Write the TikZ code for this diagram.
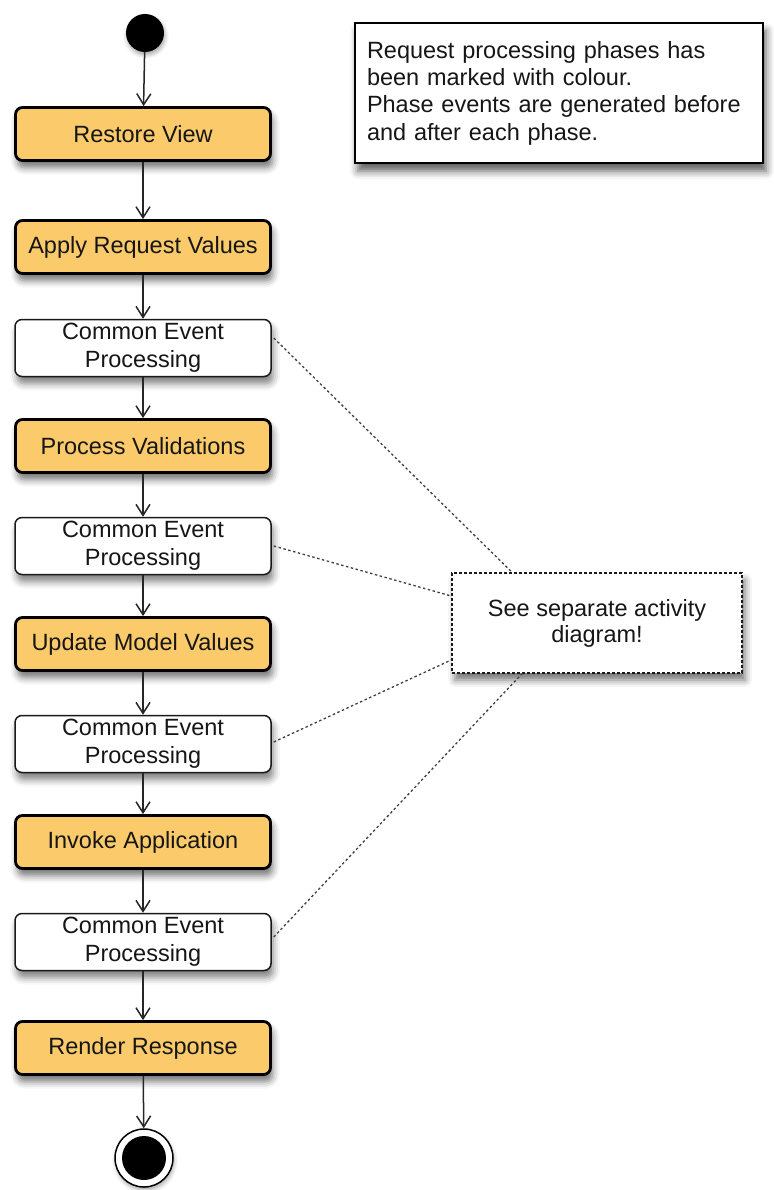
\documentclass[tikz,border=0pt]{standalone}
\usepackage{fontspec}
\setmainfont{Liberation Sans}
\usetikzlibrary{arrows.meta,shadows.blur}
\definecolor{phasefill}{HTML}{FBCB6B}
\definecolor{ink}{HTML}{161616}
\tikzset{
  base/.style={font=\fontsize{23.5}{28}\selectfont, text=ink, align=center, inner sep=0pt},
  phase/.style={base, rectangle, rounded corners=7pt, draw=black, line width=2.8pt,
    fill=phasefill, minimum width=255pt, minimum height=53pt,
    blur shadow={shadow xshift=2pt, shadow yshift=-7pt, shadow blur radius=7pt, shadow opacity=55}},
  common/.style={base, rectangle, rounded corners=7pt, draw=black!90, line width=1.5pt,
    fill=white, minimum width=256pt, minimum height=57pt,
    blur shadow={shadow xshift=2pt, shadow yshift=-7pt, shadow blur radius=7pt, shadow opacity=50}},
  flow/.style={line width=1.5pt, draw=black!85, -{Straight Barb[length=11pt,width=14pt,line width=1.5pt]}},
  link/.style={line width=1.3pt, draw=black!75, dash pattern=on 2.5pt off 2.5pt},
}
\begin{document}
\begin{tikzpicture}[x=1pt,y=-1pt]
\useasboundingbox (0,0) rectangle (773,1190);

% initial and final states
\node[circle, fill=black, minimum size=38pt, inner sep=0pt,
  blur shadow={shadow xshift=1pt, shadow yshift=-3pt, shadow blur radius=4pt, shadow opacity=35}] (start) at (145,33) {};
\node[circle, draw=black, line width=1.5pt, fill=white, minimum size=58pt, inner sep=0pt,
  blur shadow={shadow xshift=1pt, shadow yshift=-3pt, shadow blur radius=4pt, shadow opacity=35}] (stop) at (144,1158) {};
\node[circle, fill=black, minimum size=44pt, inner sep=0pt] (stopdot) at (stop) {};

% phases and event processing
\node[phase]  (rv)   at (143,134)  {Restore View};
\node[phase]  (arv)  at (143,247)  {Apply Request Values};
\node[common] (cep1) at (143,348)  {Common Event\\Processing};
\node[phase]  (pv)   at (143,446)  {Process Validations};
\node[common] (cep2) at (143,546)  {Common Event\\Processing};
\node[phase]  (umv)  at (143,644)  {Update Model Values};
\node[common] (cep3) at (143,744)  {Common Event\\Processing};
\node[phase]  (ia)   at (143,842)  {Invoke Application};
\node[common] (cep4) at (143,942)  {Common Event\\Processing};
\node[phase]  (rr)   at (143,1048) {Render Response};

% notes
\node[base, rectangle, draw=black, line width=1.6pt, fill=white, align=left,
  minimum width=408pt, minimum height=140pt, text width=384pt,
  blur shadow={shadow xshift=3pt, shadow yshift=-8pt, shadow blur radius=8pt, shadow opacity=65},
  font=\fontsize{23.5}{27.3}\selectfont] (note) at (559,93)
  {Request processing phases has\\been marked with colour.\\Phase events are generated before\\and after each phase.};
\node[base, rectangle, draw=black!90, line width=1.5pt, dash pattern=on 3pt off 2pt, fill=white,
  minimum width=290pt, minimum height=100pt,
  blur shadow={shadow xshift=3pt, shadow yshift=-7pt, shadow blur radius=7pt, shadow opacity=55},
  font=\fontsize{23.5}{26}\selectfont] (see) at (597,623) {See separate activity\\diagram!};

% control flow
\draw[flow] (start) -- (rv);
\draw[flow] (rv) -- (arv);
\draw[flow] (arv) -- (cep1);
\draw[flow] (cep1) -- (pv);
\draw[flow] (pv) -- (cep2);
\draw[flow] (cep2) -- (umv);
\draw[flow] (umv) -- (cep3);
\draw[flow] (cep3) -- (ia);
\draw[flow] (ia) -- (cep4);
\draw[flow] (cep4) -- (rr);
\draw[flow] (rr) -- (stop);

% note links
\draw[link] ([xshift=2pt,yshift=10pt]cep1.east) -- ([xshift=-85pt]see.north);
\draw[link] ([xshift=2pt]cep2.east) -- ([yshift=27pt]see.west);
\draw[link] ([xshift=2pt,yshift=2pt]cep3.east) -- ([yshift=-37pt]see.west);
\draw[link] ([xshift=2pt,yshift=5pt]cep4.east) -- ([xshift=-75pt]see.south);
\end{tikzpicture}
\end{document}
